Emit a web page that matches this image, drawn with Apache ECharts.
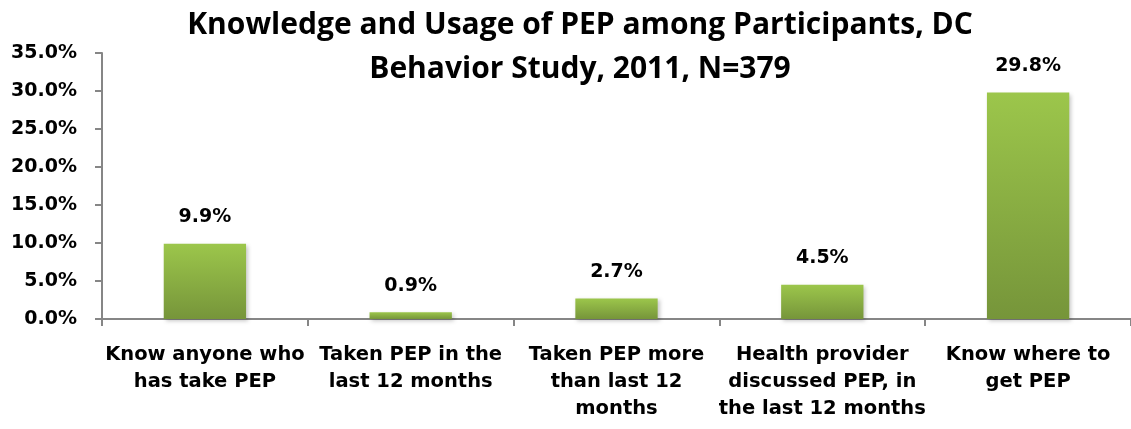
<!DOCTYPE html>
<html><head><meta charset="utf-8">
<script src="https://cdn.jsdelivr.net/npm/echarts@6/dist/echarts.min.js"></script>
<style>html,body{margin:0;padding:0;background:#fff}#c{width:1131px;height:429px}</style>
</head><body><div id="c"></div>
<script>
const categories = ["Know anyone who\nhas take PEP","Taken PEP in the\nlast 12 months","Taken PEP more\nthan last 12\nmonths","Health provider\ndiscussed PEP, in\nthe last 12 months","Know where to\nget PEP"];
const values = [9.9, 0.9, 2.7, 4.5, 29.8];
const titleText = "Knowledge and Usage of PEP among Participants, DC\nBehavior Study, 2011, N=379";
const TFONT = "Open Sans";
const FONT = "DejaVu Sans";
const chart = echarts.init(document.getElementById('c'));
chart.setOption({
  animation:false,
  title:{text:titleText,left:575,top:-2,textAlign:'center',textStyle:{fontFamily:TFONT,fontWeight:'bold',fontSize:30,lineHeight:44,color:'#000'}},
  grid:{left:102,right:-11,top:53,bottom:110,containLabel:false},
  xAxis:{type:'category',data:categories,
    axisLine:{lineStyle:{color:'#868686',width:2}},
    axisTick:{show:true,length:7,lineStyle:{color:'#868686',width:2}},
    axisLabel:{fontFamily:FONT,fontWeight:'bold',fontSize:19.5,color:'#000',lineHeight:27,margin:22,interval:0}},
  yAxis:{type:'value',min:0,max:35,interval:5,
    axisLine:{show:true,lineStyle:{color:'#868686',width:2}},
    axisTick:{show:true,length:7,lineStyle:{color:'#868686',width:2}},
    splitLine:{show:false},
    axisLabel:{fontFamily:FONT,fontWeight:'bold',fontSize:19,color:'#000',margin:25,formatter:v=>v.toFixed(1)+'%'}},
  series:[{type:'bar',data:values,barWidth:'40%',
    itemStyle:{color:new echarts.graphic.LinearGradient(0,0,0,1,[{offset:0,color:'#9cc64b'},{offset:1,color:'#76953a'}]),
      shadowColor:'rgba(0,0,0,0.22)',shadowBlur:4,shadowOffsetX:2,shadowOffsetY:2},
    label:{show:true,position:'top',distance:17,fontFamily:FONT,fontWeight:'bold',fontSize:19,color:'#000',formatter:p=>p.value.toFixed(1)+'%'}}]
});
</script></body></html>
